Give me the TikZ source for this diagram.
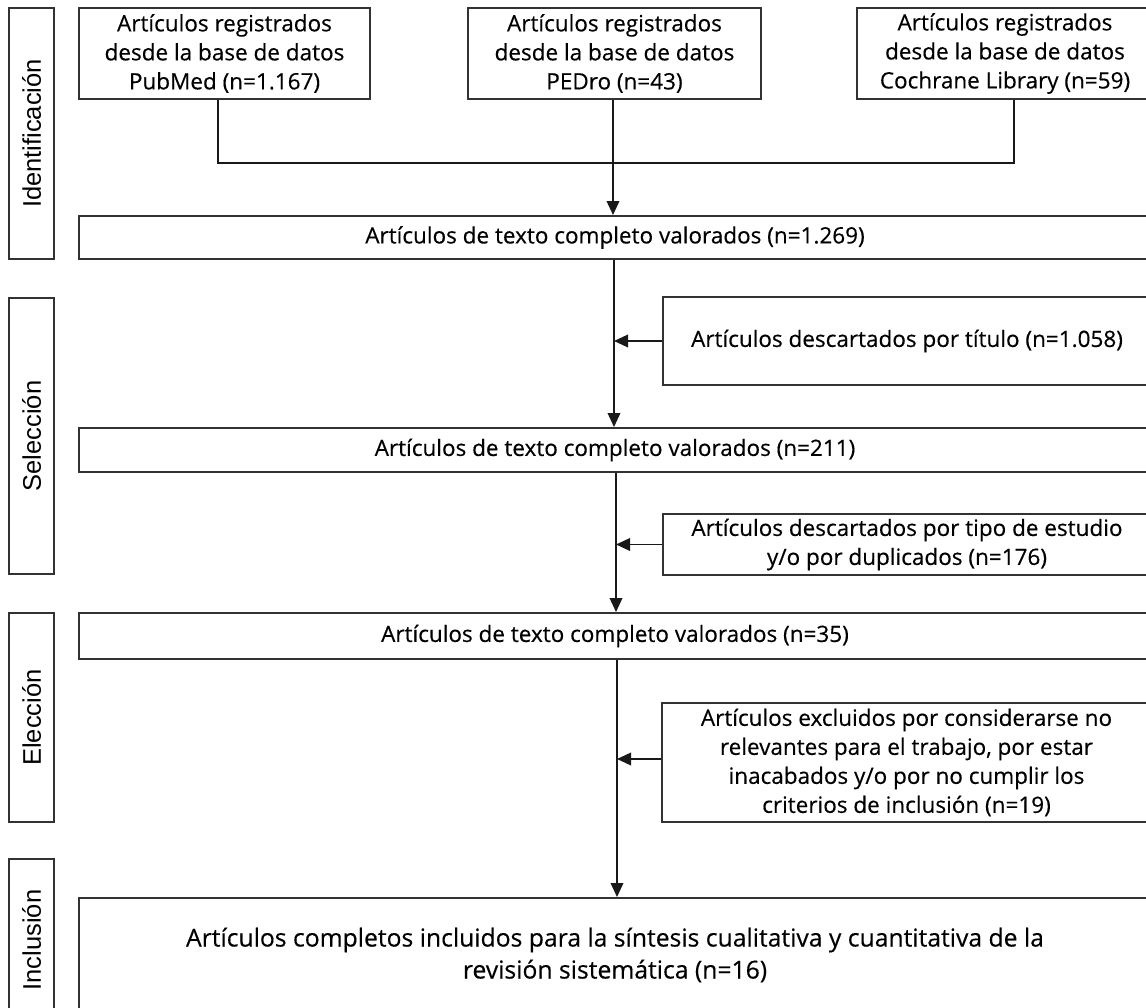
\documentclass[tikz,border=0pt]{standalone}
\usepackage{fontspec}
\setmainfont{Open Sans}[FakeBold=0.35]
\newfontfamily\sidefont{Liberation Sans}
\usetikzlibrary{arrows.meta}
\definecolor{linec}{RGB}{50,50,50}
\begin{document}
\begin{tikzpicture}[x=1pt,y=-1pt,
 box/.style={draw=linec,line width=1.9pt,rectangle,inner sep=0pt,align=center,
   font=\fontsize{22.5}{29}\selectfont,text=black},
 bigbox/.style={box,font=\fontsize{24.7}{32}\selectfont},
 side/.style={draw=linec,line width=1.9pt,rectangle,inner sep=0pt,rotate=90,
   minimum height=45pt,font=\sidefont\fontsize{25.5}{30}\selectfont,text=black},
 conn/.style={draw=black!90,line width=1.9pt},
 arr/.style={conn,-{Triangle[length=14pt,width=12.5pt]}}]
\useasboundingbox (0,0) rectangle (1146,1008);
\clip (0,0) rectangle (1146,1008);
\fill[white] (0,0) rectangle (1146,1008);

% phase labels
\node[side,minimum width=251pt] (sid) at (31.5,133.5) {Identificación};
\node[side,minimum width=276pt] (ssel) at (31.5,436) {Selección};
\node[side,minimum width=209pt] (sele) at (31.5,717.5) {Elección};
\node[side,minimum width=162pt] (sinc) at (31.5,940) {Inclusión};

% sources
\node[box,minimum width=291pt,minimum height=91pt] (pub) at (224.5,53.5)
  {Artículos registrados\\desde la base de datos\\PubMed (n=1.167)};
\node[box,minimum width=293pt,minimum height=91pt] (ped) at (614.5,53.5)
  {Artículos registrados\\desde la base de datos\\PEDro (n=43)};
\node[box,minimum width=296pt,minimum height=91pt] (coch) at (1005,53.5)
  {Artículos registrados\\desde la base de datos\\Cochrane Library (n=59)};

% main flow
\node[box,minimum width=1072pt,minimum height=43pt] (b1) at (615,237.5)
  {Artículos de texto completo valorados (n=1.269)};
\node[box,minimum width=488pt,minimum height=88pt] (tit) at (907,341)
  {Artículos descartados por título (n=1.058)};
\node[box,minimum width=1072pt,minimum height=44pt] (b2) at (615,450)
  {Artículos de texto completo valorados (n=211)};
\node[box,minimum width=488pt,minimum height=61pt] (tipo) at (907,544.5)
  {Artículos descartados por tipo de estudio\\y/o por duplicados (n=176)};
\node[box,minimum width=1072pt,minimum height=46pt] (b3) at (615,636)
  {Artículos de texto completo valorados (n=35)};
\node[box,minimum width=489pt,minimum height=119pt] (excl) at (906.5,762.5)
  {Artículos excluidos por considerarse no\\relevantes para el trabajo, por estar\\inacabados y/o por no cumplir los\\criterios de inclusión (n=19)};
\node[bigbox,minimum width=1072pt,minimum height=114pt] (fin) at (615,955)
  {Artículos completos incluidos para la síntesis cualitativa y cuantitativa de la\\revisión sistemática (n=16)};

% connectors
\coordinate (j) at (613,163);
\draw[conn] ([xshift=-6.5pt]pub.south) |- (j) -| ([xshift=9pt]coch.south);
\draw[arr] (ped.south -| j) -- (b1.north -| j);

\coordinate (m1) at (614,0);
\coordinate (m2) at (616,0);
\coordinate (m3) at (617,0);
\draw[arr] (b1.south -| m1) -- (b2.north -| m1);
\draw[arr] (tit.west) -- (tit.west -| m1);
\draw[arr] (b2.south -| m2) -- (b3.north -| m2);
\draw[arr] (tipo.west) -- (tipo.west -| m2);
\draw[arr] (b3.south -| m3) -- (fin.north -| m3);
\draw[arr] ([yshift=3.5pt]excl.west) -- ([yshift=3.5pt]excl.west -| m3);
\end{tikzpicture}
\end{document}
